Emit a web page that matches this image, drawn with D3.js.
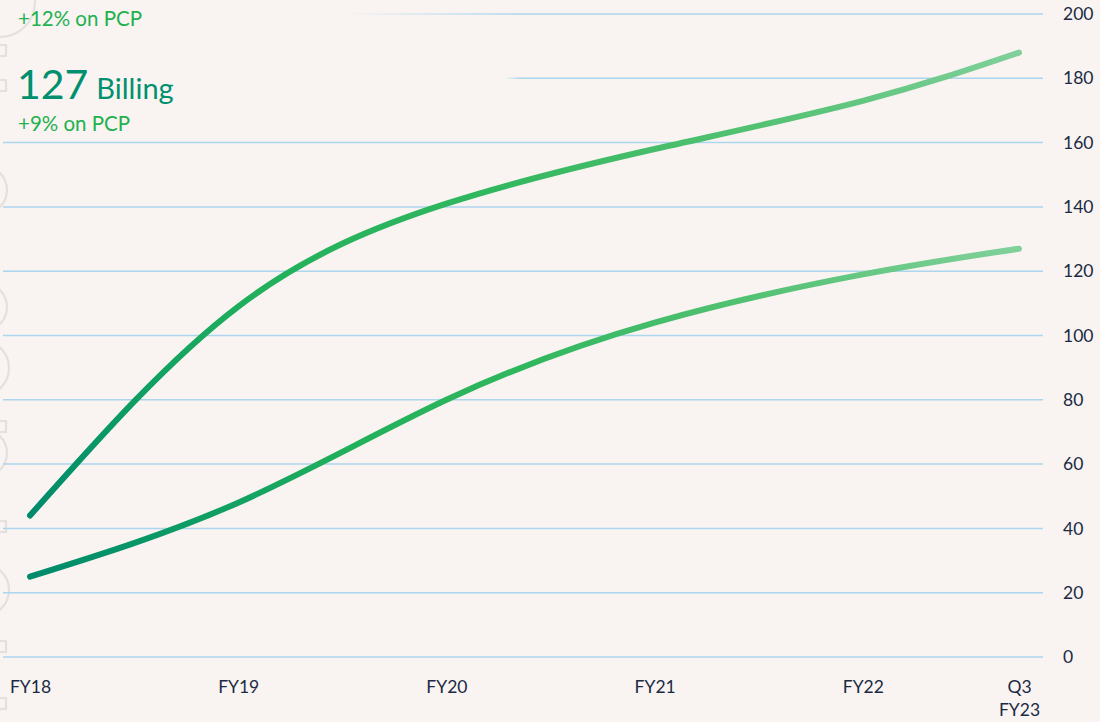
<!DOCTYPE html>
<html>
<head>
<meta charset="utf-8">
<script src="https://cdn.jsdelivr.net/npm/d3@7"></script>
<style>
  body { margin: 0; background: #f9f4f1; }
  svg { display: block; font-family: Lato, "Open Sans", sans-serif; }
</style>
</head>
<body>
<svg id="chart" width="1100" height="722"></svg>
<script>
// Reporting periods (fiscal year position) and their axis labels
const periods = [2018, 2019, 2020, 2021, 2022, 2022.75];
const periodLabels = [["FY18"], ["FY19"], ["FY20"], ["FY21"], ["FY22"], ["Q3", "FY23"]];

// Series values
const upperSeries = [44, 109, 141, 158, 173, 188];
const billing = [25, 48, 80, 104, 119, 127];

// Value axis ticks
const yTicks = [0, 20, 40, 60, 80, 100, 120, 140, 160, 180, 200];

// Headline text
const upperChange = "+12% on PCP";
const billingValue = "127";
const billingName = "Billing";
const billingChange = "+9% on PCP";

const W = 1100, H = 722;
const bg = "#f9f4f1";
const font = "Lato, 'Open Sans', sans-serif";
const svg = d3.select("#chart");

const x = d3.scaleLinear().domain([periods[0], periods[periods.length - 1]]).range([30, 1019]);
const y = d3.scaleLinear().domain([0, 200]).range([657, 14]);
const gridLeft = 3, gridRight = 1043;

const defs = svg.append("defs");

// Stroke gradient: deep teal at the lower left, pale green at the upper right
const lg = defs.append("linearGradient")
  .attr("id", "lineGrad").attr("x1", 0).attr("y1", 1).attr("x2", 1).attr("y2", 0);
[[0, "#008a6c"], [0.2, "#11a063"], [0.36, "#22b05b"], [0.58, "#31b75e"], [0.8, "#55c274"], [1, "#80d09a"]]
  .forEach(([o, c]) => lg.append("stop").attr("offset", o).attr("stop-color", c));

// Fading cover used behind the headline block
function fade(id, solidUntil) {
  const g = defs.append("linearGradient").attr("id", id)
    .attr("x1", 0).attr("x2", 1).attr("y1", 0).attr("y2", 0);
  g.append("stop").attr("offset", 0).attr("stop-color", bg).attr("stop-opacity", 1);
  g.append("stop").attr("offset", solidUntil).attr("stop-color", bg).attr("stop-opacity", 1);
  g.append("stop").attr("offset", 1).attr("stop-color", bg).attr("stop-opacity", 0);
}
fade("coverTop", 0.66);
fade("coverMid", 0.97);

svg.append("rect").attr("width", W).attr("height", H).attr("fill", bg);

// Faint decorative outlines along the left edge
const decoColor = "#e4e0dd";
function drawDeco(g, circles, squares) {
  circles.forEach(([cx, cy, r]) => g.append("circle").attr("cx", cx).attr("cy", cy).attr("r", r)
    .attr("fill", "none").attr("stroke", decoColor).attr("stroke-width", 2.2));
  squares.forEach(v => g.append("rect").attr("x", -5).attr("y", v).attr("width", 11).attr("height", 11)
    .attr("fill", "none").attr("stroke", decoColor).attr("stroke-width", 2.2));
}
drawDeco(svg.append("g"),
  [[-17, 190, 24], [-17, 307, 24], [-19, 368, 28], [-17, 453, 24], [-17, 590, 26]],
  [421, 521, 641, 698]);

// Horizontal gridlines
svg.append("g").selectAll("line").data(yTicks).join("line")
  .attr("x1", gridLeft).attr("x2", gridRight)
  .attr("y1", d => y(d)).attr("y2", d => y(d))
  .attr("stroke", "#abd6ee").attr("stroke-width", 1.5);

// Value axis on the right
const yAxis = svg.append("g").attr("transform", `translate(${gridRight},0)`)
  .call(d3.axisRight(y).tickValues(yTicks).tickSize(0).tickPadding(20));
yAxis.select(".domain").remove();
yAxis.selectAll("text").attr("font-size", 17.5).attr("fill", "#1b2a44").attr("font-family", font);

// Period axis along the bottom
const xAxis = svg.append("g").attr("transform", `translate(0,${y(0)})`)
  .call(d3.axisBottom(x).tickValues(periods).tickSize(0).tickFormat(""));
xAxis.select(".domain").remove();
xAxis.selectAll(".tick").each(function (d, i) {
  const t = d3.select(this).append("text")
    .attr("fill", "#1b2a44").attr("font-size", 17.5).attr("text-anchor", "middle")
    .attr("font-family", font);
  periodLabels[i].forEach((s, k) => t.append("tspan").attr("x", 0).attr("y", 36 + k * 23).text(s));
});

// Series lines, drawn as smooth natural splines
const line = d3.line().x((d, i) => x(periods[i])).y(d => y(d)).curve(d3.curveNatural);
[upperSeries, billing].forEach(s => {
  svg.append("path").datum(s).attr("d", line)
    .attr("fill", "none").attr("stroke", "url(#lineGrad)")
    .attr("stroke-width", 6).attr("stroke-linecap", "round").attr("stroke-linejoin", "round");
});

// Headline block over a fading cover
svg.append("rect").attr("x", 0).attr("y", 0).attr("width", 520).attr("height", 44).attr("fill", "url(#coverTop)");
svg.append("rect").attr("x", 0).attr("y", 44).attr("width", 520).attr("height", 76).attr("fill", "url(#coverMid)");
drawDeco(svg.append("g"), [[0, 2, 35]], [45, 80]);

const head = svg.append("g").attr("font-family", font);
head.append("text").attr("x", 18).attr("y", 26).attr("font-size", 20.5).attr("fill", "#22b14f").text(upperChange);
const big = head.append("text").attr("x", 17).attr("y", 99).attr("fill", "#009070");
big.append("tspan").attr("font-size", 41).text(billingValue);
big.append("tspan").attr("font-size", 29).attr("dx", 8).text(billingName);
head.append("text").attr("x", 18).attr("y", 131).attr("font-size", 20.5).attr("fill", "#22b14f").text(billingChange);
</script>
</body>
</html>
